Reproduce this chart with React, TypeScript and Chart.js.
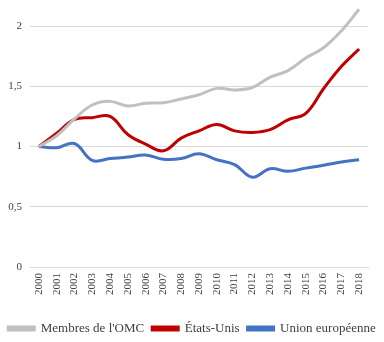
import React, { useEffect, useRef } from "react";
import { Chart, registerables } from "chart.js";

Chart.register(...registerables);

const years = ["2000","2001","2002","2003","2004","2005","2006","2007","2008","2009","2010","2011","2012","2013","2014","2015","2016","2017","2018"];
const omc = [1, 1.09, 1.23, 1.345, 1.375, 1.337, 1.36, 1.364, 1.395, 1.43, 1.483, 1.47, 1.49, 1.576, 1.63, 1.735, 1.82, 1.96, 2.14];
const usa = [1, 1.11, 1.225, 1.24, 1.25, 1.1, 1.02, 0.965, 1.07, 1.13, 1.183, 1.13, 1.117, 1.14, 1.222, 1.275, 1.48, 1.665, 1.81];
const ue = [1, 0.99, 1.025, 0.885, 0.9, 0.913, 0.93, 0.894, 0.9, 0.94, 0.89, 0.85, 0.746, 0.816, 0.794, 0.821, 0.844, 0.871, 0.89];
const yTicks = [0, 0.5, 1, 1.5, 2];

const FONT = "'Liberation Serif', 'DejaVu Serif', serif";

export default function App() {
  const ref = useRef<HTMLCanvasElement>(null);
  useEffect(() => {
    document.body.style.margin = "0";
    const chart = new Chart(ref.current!, {
      type: "line",
      data: {
        labels: years,
        datasets: [
          { label: "Membres de l'OMC", data: omc, borderColor: "#c0c0c0", backgroundColor: "#c0c0c0", borderWidth: 3, pointRadius: 0, tension: 0.4 },
          { label: "États-Unis", data: usa, borderColor: "#c00000", backgroundColor: "#c00000", borderWidth: 3, pointRadius: 0, tension: 0.4 },
          { label: "Union européenne", data: ue, borderColor: "#4472c4", backgroundColor: "#4472c4", borderWidth: 3, pointRadius: 0, tension: 0.4 },
        ],
      },
      options: {
        animation: false,
        responsive: false,
        layout: { padding: { top: 2, right: 0, bottom: -3, left: 0 } },
        plugins: {
          tooltip: { enabled: false },
          legend: {
            position: "bottom",
            labels: {
              boxWidth: 26,
              boxHeight: 3,
              padding: 8,
              color: "#404040",
              font: { family: FONT, size: 13 },
            },
          },
        },
        scales: {
          x: {
            offset: true,
            grid: { display: false, drawTicks: false },
            border: { display: true, color: "#d9d9d9" },
            ticks: {
              autoSkip: false,
              maxRotation: 90,
              minRotation: 90,
              padding: 6,
              color: "#404040",
              font: { family: FONT, size: 11 },
            },
            afterFit: (s: any) => { s.height = 47; },
          },
          y: {
            min: 0,
            max: 2.2,
            afterBuildTicks: (s: any) => { s.ticks = yTicks.map((v) => ({ value: v })); },
            grid: { color: "#d9d9d9", drawTicks: false },
            border: { display: false },
            ticks: {
              padding: 8,
              color: "#404040",
              font: { family: FONT, size: 11 },
              callback: (v: any) => String(v).replace(".", ","),
            },
            afterFit: (s: any) => { s.width = 30; s.paddingTop = 0; s.paddingBottom = 0; },
          },
          yr: {
            position: "right",
            grid: { display: false, drawTicks: false },
            border: { display: false },
            ticks: { display: false },
            afterFit: (s: any) => { s.width = 16; s.paddingTop = 0; s.paddingBottom = 0; },
          },
        },
      },
    });
    return () => chart.destroy();
  }, []);
  return (
    <div style={{ width: 384, height: 342 }}>
      <canvas ref={ref} width={384} height={342} />
    </div>
  );
}
